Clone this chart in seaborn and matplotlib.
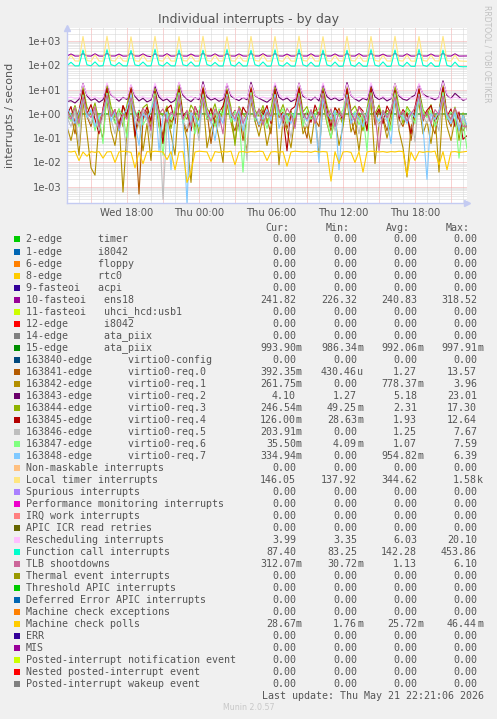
import numpy as np
import pandas as pd
import seaborn as sns
import matplotlib.pyplot as plt
from matplotlib.patches import Rectangle
from matplotlib.ticker import FixedLocator, FuncFormatter, NullFormatter

W, H = 497, 719

# --- time axis: hours since Wed 00:00, one sample every 20 min (Wed 13:00 -> Thu 22:20)
hours = [13 + i / 3 for i in range(101)]
tick_hours = [18, 24, 30, 36, 42]
tick_labels = ["Wed 18:00", "Thu 00:00", "Thu 06:00", "Thu 12:00", "Thu 18:00"]

# --- series (interrupts / second)
ens18 = [240.5, 292, 239.8, 241.2, 305, 243, 238.9, 298, 240.1, 239.5,
         312, 242.3, 241.0, 289, 238.7, 240.4, 318, 241.8, 239.6, 295,
         240.9, 226.3, 301, 242.7, 240.2, 300, 239.1, 241.5, 309, 241.1,
         238.5, 291, 240.6, 239.9, 314, 243.4, 241.3, 296, 239.4, 240.7,
         303, 242.0, 239.0, 293, 241.1, 238.8, 311, 241.6, 240.8, 299,
         239.7, 240.3, 306, 242.9, 239.3, 290, 240.0, 241.4, 316, 241.3,
         240.1, 297, 238.6, 239.8, 302, 242.5, 241.6, 294, 240.3, 240.0,
         310, 241.9, 239.5, 301, 239.2, 241.0, 307, 243.1, 240.7, 288,
         240.8, 239.4, 315, 242.2, 238.7, 296, 239.6, 240.6, 304, 241.7,
         240.4, 292, 241.2, 239.7, 313, 242.8, 240.0, 297, 239.3, 240.9,
         241.8]
ata = [0.992, 0.994, 0.991, 0.993, 0.996, 0.992, 0.990, 0.993, 0.995, 0.991,
       0.993, 0.992, 0.994, 0.990, 0.995, 0.993, 0.991, 0.992, 0.994, 0.993,
       0.990, 0.992, 0.996, 0.991, 0.993, 0.994, 0.992, 0.990, 0.995, 0.992,
       0.993, 0.991, 0.994, 0.992, 0.997, 0.993, 0.991, 0.992, 0.994, 0.990,
       0.992, 0.993, 0.991, 0.995, 0.992, 0.994, 0.993, 0.990, 0.992, 0.993,
       0.994, 0.991, 0.993, 0.992, 0.995, 0.990, 0.992, 0.994, 0.993, 0.991,
       0.992, 0.993, 0.990, 0.994, 0.996, 0.992, 0.991, 0.993, 0.992, 0.994,
       0.990, 0.993, 0.992, 0.995, 0.991, 0.992, 0.994, 0.993, 0.990, 0.992,
       0.993, 0.991, 0.995, 0.992, 0.994, 0.990, 0.993, 0.992, 0.991, 0.994,
       0.992, 0.993, 0.990, 0.995, 0.992, 0.991, 0.994, 0.993, 0.992, 0.990,
       0.994]
req0 = [0.6, 0.9, 0.15, 1.2, 6.5, 0.8, 0.3, 1.5, 0.4, 0.09,
        8.2, 1.1, 0.5, 0.2, 2.1, 0.7, 11.0, 0.35, 0.0005, 0.6,
        1.3, 0.25, 7.5, 0.9, 0.12, 1.8, 0.45, 0.8, 9.8, 0.5,
        0.18, 1.4, 0.3, 0.7, 13.5, 1.2, 0.06, 0.9, 0.4, 1.6,
        6.8, 0.5, 0.2, 1.1, 0.08, 0.7, 10.5, 0.9, 0.3, 1.5,
        0.6, 0.15, 8.8, 0.7, 1.2, 0.25, 0.9, 0.5, 12.0, 0.4,
        0.1, 1.3, 0.6, 0.3, 7.2, 1.0, 0.2, 0.8, 1.7, 0.45,
        9.5, 0.6, 0.14, 1.1, 0.5, 0.9, 8.0, 0.35, 1.4, 0.7,
        0.2, 1.0, 11.5, 0.6, 0.3, 1.2, 0.08, 0.9, 7.8, 0.5,
        1.3, 0.4, 0.15, 1.0, 12.8, 0.7, 0.3, 1.5, 0.6, 0.2,
        0.39]
req1 = [0.3, 0.08, 0.5, 0.02, 3.2, 0.15, 0.006, 0.003, 0.4, 0.9,
        3.5, 0.2, 0.05, 0.6, 0.0006, 0.25, 2.8, 0.1, 0.7, 0.03,
        0.4, 0.012, 3.6, 0.3, 0.06, 0.8, 0.15, 0.02, 3.1, 0.5,
        0.09, 0.0015, 0.35, 0.7, 3.9, 0.04, 0.25, 0.6, 0.1, 0.01,
        2.6, 0.45, 0.07, 0.9, 0.2, 0.03, 3.3, 0.5, 0.12, 0.7,
        0.05, 0.3, 2.9, 0.008, 0.6, 0.2, 0.04, 0.8, 3.4, 0.15,
        0.35, 0.06, 0.9, 0.02, 2.7, 0.4, 0.1, 0.7, 0.05, 0.3,
        3.7, 0.18, 0.5, 0.03, 0.8, 0.25, 3.0, 0.009, 0.4, 0.6,
        0.1, 0.5, 3.5, 0.2, 0.04, 0.0025, 0.3, 0.7, 2.8, 0.15,
        0.5, 0.06, 0.9, 0.004, 3.8, 0.3, 0.08, 0.6, 0.2, 0.4,
        0.26]
req2 = [3.2, 3.5, 2.8, 4.0, 18.0, 5.5, 3.6, 4.2, 3.0, 3.8,
        16.0, 6.0, 4.5, 3.3, 4.8, 3.9, 15.0, 5.2, 3.4, 4.4,
        3.1, 3.7, 14.0, 4.9, 3.5, 4.1, 2.9, 3.6, 19.0, 5.8,
        4.0, 3.2, 4.6, 3.8, 21.0, 5.0, 3.7, 4.3, 3.3, 3.9,
        17.0, 5.4, 4.2, 3.5, 4.7, 3.8, 20.0, 5.6, 4.4, 3.6,
        3.0, 4.1, 15.5, 4.8, 3.7, 4.5, 3.2, 3.9, 18.5, 5.3,
        4.3, 3.6, 4.9, 3.4, 16.5, 5.1, 3.8, 4.6, 3.5, 4.0,
        19.5, 5.7, 4.1, 3.3, 4.4, 3.7, 14.5, 5.0, 3.9, 4.7,
        3.4, 4.2, 17.5, 5.5, 4.0, 3.6, 4.8, 5.9, 16.0, 6.5,
        5.2, 4.5, 3.8, 4.9, 23.0, 5.8, 4.3, 7.0, 5.0, 3.6,
        4.1]
req3 = [1.5, 0.8, 2.2, 0.6, 12.0, 1.9, 0.9, 2.8, 0.5, 1.2,
        15.5, 2.0, 0.7, 1.6, 0.3, 2.4, 13.0, 1.1, 0.6, 1.8,
        2.5, 0.4, 11.0, 1.4, 0.8, 2.1, 0.25, 1.5, 17.0, 1.0,
        0.6, 2.3, 1.2, 0.15, 14.0, 1.7, 0.9, 2.6, 0.5, 1.3,
        10.5, 1.8, 0.05, 2.0, 1.0, 0.6, 16.0, 1.4, 0.8, 2.2,
        0.4, 1.6, 12.5, 0.9, 2.4, 0.7, 1.3, 0.3, 15.0, 1.2,
        2.0, 0.6, 1.5, 0.9, 11.5, 2.2, 0.5, 1.7, 1.0, 0.35,
        13.5, 1.3, 2.1, 0.8, 0.2, 1.6, 12.0, 1.0, 2.3, 0.6,
        1.4, 0.9, 16.5, 1.8, 0.4, 2.0, 1.1, 0.7, 10.0, 1.5,
        0.8, 2.4, 0.5, 1.2, 17.3, 1.0, 0.6, 1.9, 0.08, 1.1,
        0.25]
req4 = [0.9, 2.0, 0.4, 1.3, 9.5, 1.0, 2.4, 0.6, 0.15, 1.7,
        11.0, 0.8, 1.5, 0.3, 2.2, 0.9, 12.6, 0.12, 1.4, 0.7,
        1.9, 0.5, 8.5, 1.2, 0.06, 1.6, 2.3, 0.4, 10.5, 0.8,
        1.3, 0.2, 2.0, 0.9, 11.8, 0.6, 1.7, 0.35, 1.1, 2.1,
        9.0, 0.7, 1.4, 0.25, 1.9, 1.0, 12.2, 0.5, 1.6, 0.9,
        2.2, 0.4, 10.0, 1.3, 0.8, 0.03, 1.5, 2.0, 11.5, 0.7,
        1.2, 0.45, 2.3, 0.9, 8.8, 1.4, 0.3, 1.8, 1.0, 0.6,
        10.8, 1.1, 0.5, 2.0, 1.3, 0.2, 12.0, 0.8, 1.6, 0.4,
        2.1, 1.0, 9.2, 0.6, 1.5, 0.9, 0.15, 1.9, 11.0, 0.7,
        1.4, 2.2, 0.5, 1.0, 12.4, 0.8, 1.6, 0.3, 1.2, 0.09,
        0.126]
req5 = [0.7, 0.3, 1.2, 0.05, 5.5, 0.9, 0.4, 1.5, 0.2, 0.8,
        6.8, 0.6, 0.15, 1.1, 0.5, 0.02, 7.2, 0.8, 0.3, 1.3,
        0.6, 0.1, 5.0, 0.9, 0.0003, 0.4, 1.1, 0.7, 7.0, 0.5,
        0.25, 1.2, 0.6, 0.08, 6.5, 1.0, 0.4, 1.5, 0.3, 0.9,
        5.8, 0.5, 1.3, 0.2, 0.8, 0.012, 7.6, 0.7, 1.1, 0.35,
        0.9, 0.5, 6.2, 1.2, 0.3, 0.8, 0.1, 1.4, 5.5, 0.6,
        0.3, 1.0, 0.7, 0.04, 7.0, 0.8, 1.3, 0.2, 0.6, 1.1,
        6.0, 0.4, 0.9, 0.15, 1.2, 0.6, 5.2, 1.0, 0.3, 0.8,
        0.5, 1.4, 7.3, 0.25, 0.9, 0.6, 1.2, 0.07, 6.4, 0.8,
        0.4, 1.1, 0.6, 0.2, 7.1, 0.9, 0.5, 1.3, 0.3, 0.7,
        0.204]
req6 = [1.0, 0.5, 1.8, 0.3, 6.0, 0.8, 1.4, 0.2, 0.9, 0.06,
        7.0, 1.2, 0.4, 1.6, 0.8, 0.1, 5.5, 0.9, 1.3, 0.35,
        0.7, 1.5, 6.8, 0.5, 0.02, 1.1, 0.6, 1.7, 7.5, 0.4,
        1.2, 0.8, 0.15, 1.4, 5.8, 0.6, 1.0, 0.3, 1.6, 0.9,
        6.5, 0.45, 1.3, 0.7, 0.004, 1.0, 7.2, 0.5, 1.5, 0.8,
        0.25, 1.2, 5.2, 0.9, 1.6, 0.4, 1.1, 0.7, 6.9, 0.3,
        1.4, 0.6, 0.9, 1.7, 6.2, 0.5, 0.1, 1.2, 0.8, 1.5,
        5.6, 0.7, 1.3, 0.35, 1.0, 0.03, 7.4, 0.9, 0.5, 1.4,
        0.8, 0.2, 6.0, 1.1, 0.6, 1.6, 0.9, 0.4, 5.9, 1.2,
        0.7, 1.4, 0.3, 0.9, 7.6, 0.6, 1.2, 0.8, 0.015, 0.5,
        0.0355]
req7 = [1.8, 0.9, 0.4, 1.2, 4.8, 0.7, 1.5, 0.3, 0.8, 1.1,
        5.5, 0.5, 1.3, 0.2, 0.9, 1.6, 6.0, 0.4, 0.05, 1.0,
        0.6, 1.4, 4.5, 0.03, 0.8, 1.2, 0.005, 0.9, 6.2, 0.5,
        0.0002, 1.1, 0.7, 0.3, 5.0, 1.3, 0.6, 0.08, 1.0, 0.4,
        5.8, 0.9, 0.5, 1.4, 0.2, 0.8, 4.9, 1.1, 0.35, 0.7,
        1.5, 0.6, 6.3, 0.25, 1.0, 0.8, 0.4, 1.2, 5.3, 0.9,
        0.5, 1.3, 0.7, 0.01, 4.6, 1.0, 0.6, 1.4, 0.005, 0.8,
        6.0, 0.4, 1.1, 0.7, 0.3, 1.2, 5.1, 0.9, 0.5, 1.3,
        0.6, 0.06, 4.8, 1.0, 0.8, 0.4, 1.2, 0.7, 6.1, 0.3,
        0.002, 1.0, 0.6, 1.3, 5.6, 0.8, 0.4, 1.1, 0.2, 0.9,
        0.335]
local_timer = [148, 262, 151, 149, 1540, 156, 147, 270, 150, 148,
               1580, 158, 149, 258, 152, 147, 1490, 154, 146, 266,
               149, 150, 1560, 157, 148, 272, 151, 148, 1520, 155,
               150, 260, 148, 149, 1570, 156, 147, 268, 150, 151,
               1500, 153, 149, 264, 152, 148, 1550, 158, 148, 271,
               149, 150, 1530, 155, 146, 259, 151, 147, 1575, 157,
               149, 267, 150, 149, 1510, 154, 148, 263, 152, 150,
               1560, 156, 150, 269, 149, 148, 1540, 158, 147, 261,
               151, 149, 1565, 155, 149, 270, 150, 147, 1525, 157,
               148, 265, 152, 150, 1555, 154, 149, 266, 151, 148,
               146]
resched = [4.4, 4.9, 4.3, 4.6, 17.5, 6.2, 4.5, 5.0, 4.2, 4.7,
           19.0, 6.5, 4.3, 4.8, 4.4, 4.5, 16.0, 6.0, 4.6, 5.1,
           4.3, 4.4, 18.5, 6.4, 4.2, 4.9, 4.5, 4.6, 20.1, 6.8,
           4.4, 5.2, 4.3, 4.5, 17.0, 6.1, 4.5, 4.8, 4.2, 4.7,
           18.0, 6.3, 4.3, 5.0, 4.6, 4.4, 16.5, 5.9, 4.6, 4.9,
           4.3, 4.5, 19.5, 6.6, 4.4, 5.1, 4.5, 4.3, 17.8, 6.2,
           4.2, 4.8, 4.4, 4.6, 18.8, 6.4, 4.5, 5.0, 4.3, 4.4,
           16.8, 6.0, 4.3, 4.9, 4.6, 4.5, 19.2, 6.5, 4.4, 5.2,
           4.2, 4.6, 17.2, 6.1, 4.6, 4.8, 4.5, 4.3, 18.2, 6.3,
           4.3, 5.0, 4.4, 4.5, 19.8, 6.7, 4.2, 4.9, 4.3, 4.1,
           3.99]
func_call = [96, 133, 94, 95, 425, 104, 95, 138, 93, 96,
             440, 106, 94, 130, 95, 94, 410, 103, 96, 136,
             94, 95, 450, 105, 93, 132, 95, 94, 430, 104,
             95, 139, 93, 95, 420, 106, 94, 131, 94, 93,
             445, 103, 92, 135, 93, 94, 415, 105, 93, 137,
             92, 93, 435, 102, 92, 129, 93, 92, 454, 104,
             91, 134, 92, 93, 425, 103, 92, 136, 91, 92,
             418, 102, 90, 131, 92, 91, 440, 101, 91, 138,
             90, 92, 428, 103, 89, 133, 91, 90, 447, 100,
             90, 130, 89, 91, 422, 99, 88, 135, 89, 87,
             87.4]
tlb = [1.2, 0.6, 1.8, 0.4, 5.0, 1.1, 0.7, 2.0, 0.3, 1.4,
       5.8, 0.8, 1.5, 0.25, 1.0, 0.6, 4.6, 1.3, 0.5, 1.7,
       0.9, 0.2, 5.4, 1.0, 1.6, 0.45, 1.2, 0.8, 6.0, 0.6,
       1.4, 0.3, 1.9, 0.7, 4.8, 1.1, 0.5, 1.6, 0.9, 0.15,
       5.2, 1.3, 0.6, 1.8, 0.4, 1.0, 5.9, 0.7, 1.5, 0.35,
       1.2, 0.8, 4.7, 1.4, 0.5, 1.7, 0.9, 0.25, 5.5, 1.0,
       0.6, 1.5, 0.4, 1.1, 6.1, 0.8, 1.6, 0.3, 1.3, 0.7,
       5.0, 1.2, 0.5, 1.9, 0.9, 0.4, 5.7, 1.0, 0.031, 1.4,
       0.7, 1.6, 4.9, 0.8, 1.3, 0.5, 1.0, 1.8, 5.6, 0.6,
       1.2, 0.4, 1.5, 0.9, 5.3, 1.1, 0.6, 1.7, 0.8, 0.3,
       0.312]
mce_polls = [0.028, 0.027, 0.029, 0.012, 0.027, 0.018, 0.028, 0.026, 0.028, 0.015,
             0.027, 0.028, 0.010, 0.027, 0.029, 0.028, 0.026, 0.006, 0.027, 0.009,
             0.028, 0.027, 0.029, 0.028, 0.027, 0.013, 0.028, 0.005, 0.027, 0.028,
             0.0015, 0.004, 0.027, 0.029, 0.028, 0.027, 0.011, 0.028, 0.026, 0.028,
             0.027, 0.029, 0.008, 0.027, 0.028, 0.026, 0.028, 0.027, 0.029, 0.028,
             0.012, 0.027, 0.028, 0.026, 0.028, 0.007, 0.027, 0.029, 0.028, 0.027,
             0.028, 0.026, 0.029, 0.027, 0.028, 0.027, 0.0017, 0.028, 0.009, 0.027,
             0.028, 0.026, 0.010, 0.028, 0.004, 0.027, 0.029, 0.028, 0.027, 0.028,
             0.026, 0.028, 0.027, 0.029, 0.028, 0.003, 0.027, 0.012, 0.028, 0.026,
             0.028, 0.027, 0.029, 0.008, 0.028, 0.005, 0.027, 0.028, 0.026, 0.027,
             0.0287]

# drawn in munin order (later on top); zero-valued fields are not drawn on a log axis
plotted = [
    ("10-fasteoi", "#990099", ens18),
    ("15-edge", "#008F00", ata),
    ("163841-edge", "#B35A00", req0),
    ("163842-edge", "#B38F00", req1),
    ("163843-edge", "#6B006B", req2),
    ("163844-edge", "#8FB300", req3),
    ("163845-edge", "#B30000", req4),
    ("163846-edge", "#BEBEBE", req5),
    ("163847-edge", "#80FF80", req6),
    ("163848-edge", "#80C9FF", req7),
    ("LOC", "#FFE680", local_timer),
    ("RES", "#FFBFFF", resched),
    ("CAL", "#00FFCC", func_call),
    ("TLB", "#CC6699", tlb),
    ("MCP", "#FFCC00", mce_polls),
]

# --- legend table
legend_names = [
    "2-edge      timer", "1-edge      i8042", "6-edge      floppy", "8-edge      rtc0",
    "9-fasteoi   acpi", "10-fasteoi   ens18", "11-fasteoi   uhci_hcd:usb1",
    "12-edge      i8042", "14-edge      ata_piix", "15-edge      ata_piix",
    "163840-edge      virtio0-config", "163841-edge      virtio0-req.0",
    "163842-edge      virtio0-req.1", "163843-edge      virtio0-req.2",
    "163844-edge      virtio0-req.3", "163845-edge      virtio0-req.4",
    "163846-edge      virtio0-req.5", "163847-edge      virtio0-req.6",
    "163848-edge      virtio0-req.7", "Non-maskable interrupts",
    "Local timer interrupts", "Spurious interrupts",
    "Performance monitoring interrupts", "IRQ work interrupts",
    "APIC ICR read retries", "Rescheduling interrupts", "Function call interrupts",
    "TLB shootdowns", "Thermal event interrupts", "Threshold APIC interrupts",
    "Deferred Error APIC interrupts", "Machine check exceptions",
    "Machine check polls", "ERR", "MIS", "Posted-interrupt notification event",
    "Nested posted-interrupt event", "Posted-interrupt wakeup event",
]
legend_colors = [
    "#00CC00", "#0066B3", "#FF8000", "#FFCC00", "#330099", "#990099", "#CCFF00",
    "#FF0000", "#808080", "#008F00", "#00487D", "#B35A00", "#B38F00", "#6B006B",
    "#8FB300", "#B30000", "#BEBEBE", "#80FF80", "#80C9FF", "#FFC080", "#FFE680",
    "#AA80FF", "#EE00CC", "#FF8080", "#666600", "#FFBFFF", "#00FFCC", "#CC6699",
    "#999900", "#00CC00", "#0066B3", "#FF8000", "#FFCC00", "#330099", "#990099",
    "#CCFF00", "#FF0000", "#808080",
]
cur = ["0.00", "0.00", "0.00", "0.00", "0.00", "241.82", "0.00", "0.00", "0.00", "993.90m",
       "0.00", "392.35m", "261.75m", "4.10", "246.54m", "126.00m", "203.91m", "35.50m", "334.94m",
       "0.00", "146.05", "0.00", "0.00", "0.00", "0.00", "3.99", "87.40", "312.07m", "0.00",
       "0.00", "0.00", "0.00", "28.67m", "0.00", "0.00", "0.00", "0.00", "0.00"]
mins = ["0.00", "0.00", "0.00", "0.00", "0.00", "226.32", "0.00", "0.00", "0.00", "986.34m",
        "0.00", "430.46u", "0.00", "1.27", "49.25m", "28.63m", "0.00", "4.09m", "0.00",
        "0.00", "137.92", "0.00", "0.00", "0.00", "0.00", "3.35", "83.25", "30.72m", "0.00",
        "0.00", "0.00", "0.00", "1.76m", "0.00", "0.00", "0.00", "0.00", "0.00"]
avgs = ["0.00", "0.00", "0.00", "0.00", "0.00", "240.83", "0.00", "0.00", "0.00", "992.06m",
        "0.00", "1.27", "778.37m", "5.18", "2.31", "1.93", "1.25", "1.07", "954.82m",
        "0.00", "344.62", "0.00", "0.00", "0.00", "0.00", "6.03", "142.28", "1.13", "0.00",
        "0.00", "0.00", "0.00", "25.72m", "0.00", "0.00", "0.00", "0.00", "0.00"]
maxs = ["0.00", "0.00", "0.00", "0.00", "0.00", "318.52", "0.00", "0.00", "0.00", "997.91m",
        "0.00", "13.57", "3.96", "23.01", "17.30", "12.64", "7.67", "7.59", "6.39",
        "0.00", "1.58k", "0.00", "0.00", "0.00", "0.00", "20.10", "453.86", "6.10", "0.00",
        "0.00", "0.00", "0.00", "46.44m", "0.00", "0.00", "0.00", "0.00", "0.00"]

# --- styling
sns.set_style("white")
plt.rcParams["font.family"] = ["DejaVu Sans"]
FONT = "#555555"
AXIS = "#C4CBF2"
MONO = dict(family="DejaVu Sans Mono", fontsize=7.2, color=FONT)

fig = plt.figure(figsize=(W / 100, H / 100), dpi=100, facecolor="#F0F0F0")
px = lambda x, y: (x / W, 1 - y / H)

left, top, right, bottom = 67, 28, 467, 203
ax = fig.add_axes([left / W, 1 - bottom / H, (right - left) / W, (bottom - top) / H])
ax.set_facecolor("white")

frames = [pd.DataFrame({"hour": hours, "rate": vals, "series": name})
          for name, _, vals in plotted]
df = pd.concat(frames, ignore_index=True)
sns.lineplot(data=df, x="hour", y="rate", hue="series",
             hue_order=[p[0] for p in plotted],
             palette={p[0]: p[1] for p in plotted},
             estimator=None, sort=False, legend=False, linewidth=0.8, ax=ax)

ax.set_yscale("log")
ax.set_ylim(10 ** -3.67, 10 ** 3.535)
ax.set_xlim(hours[0], hours[-1])

ax.yaxis.set_major_locator(FixedLocator([10.0 ** k for k in range(-3, 4)]))
ax.yaxis.set_minor_locator(FixedLocator([m * 10.0 ** k for k in range(-4, 4) for m in range(2, 10)]))
ax.yaxis.set_major_formatter(FuncFormatter(lambda v, _: f"{v:.0e}"))
ax.yaxis.set_minor_formatter(NullFormatter())

major_x = list(range(15, 47, 3))
ax.xaxis.set_major_locator(FixedLocator(major_x))
ax.xaxis.set_minor_locator(FixedLocator(list(range(14, 47))))
ax.xaxis.set_major_formatter(FuncFormatter(
    lambda v, _: tick_labels[tick_hours.index(int(round(v)))] if int(round(v)) in tick_hours else ""))

dots = (0, (1, 1))
ax.grid(which="minor", color="#D4D4D4", linestyle=dots, linewidth=0.72)
ax.grid(which="major", color="#F2A6A6", linestyle=dots, linewidth=0.72)
ax.set_axisbelow(True)

ax.tick_params(which="both", length=0, labelsize=7.2, labelcolor=FONT)
ax.tick_params(axis="y", pad=3.8)
ax.tick_params(axis="x", pad=3.4)
ax.set_xlabel("")
ax.set_ylabel("")
for s in ("top", "right"):
    ax.spines[s].set_visible(False)
for s in ("left", "bottom"):
    ax.spines[s].set_color(AXIS)
    ax.spines[s].set_linewidth(1.0)
ax.plot([1.0], [0.0], marker=">", ms=4, color=AXIS, transform=ax.transAxes, clip_on=False)
ax.plot([0.0], [1.0], marker="^", ms=4, color=AXIS, transform=ax.transAxes, clip_on=False)

# --- texts
fig.text(*px(248.5, 19), "Individual interrupts - by day", ha="center", va="center",
         fontsize=9, color=FONT)
fig.text(*px(10, 115), "interrupts / second", rotation=90, ha="center", va="center",
         fontsize=8, color=FONT)
fig.text(*px(486.5, 54), "RRDTOOL / TOBI OETIKER", rotation=270, ha="center", va="center",
         fontsize=5.5, color="#C0C0C0")

cols = [(cur, 296, 289.5, "Cur:"), (mins, 357, 349.5, "Min:"),
        (avgs, 417, 409.5, "Avg:"), (maxs, 477, 470, "Max:")]
for _, _, hx, head in cols:
    fig.text(*px(hx, 228.3), head, ha="right", va="center", **MONO)

for k, name in enumerate(legend_names):
    y = 239.5 + 12.01 * k
    fig.add_artist(Rectangle(px(13.5, y + 3), 6 / W, 6 / H, transform=fig.transFigure,
                             facecolor=legend_colors[k], edgecolor="none"))
    fig.text(*px(26, y), name, ha="left", va="center", **MONO)
    for values, xr, _, _ in cols:
        v = values[k]
        num, unit = (v[:-1], v[-1]) if v[-1].isalpha() else (v, "")
        fig.text(*px(xr, y), num, ha="right", va="center", **MONO)
        if unit:
            fig.text(*px(xr, y), unit, ha="left", va="center", **MONO)

fig.text(*px(483.5, 695.7), "Last update: Thu May 21 22:21:06 2026", ha="right", va="center", **MONO)
fig.text(*px(249, 707.7), "Munin 2.0.57", ha="center", va="center", fontsize=5.7, color="#C8C8C8")

fig.savefig("out.png", dpi=100, facecolor=fig.get_facecolor())
